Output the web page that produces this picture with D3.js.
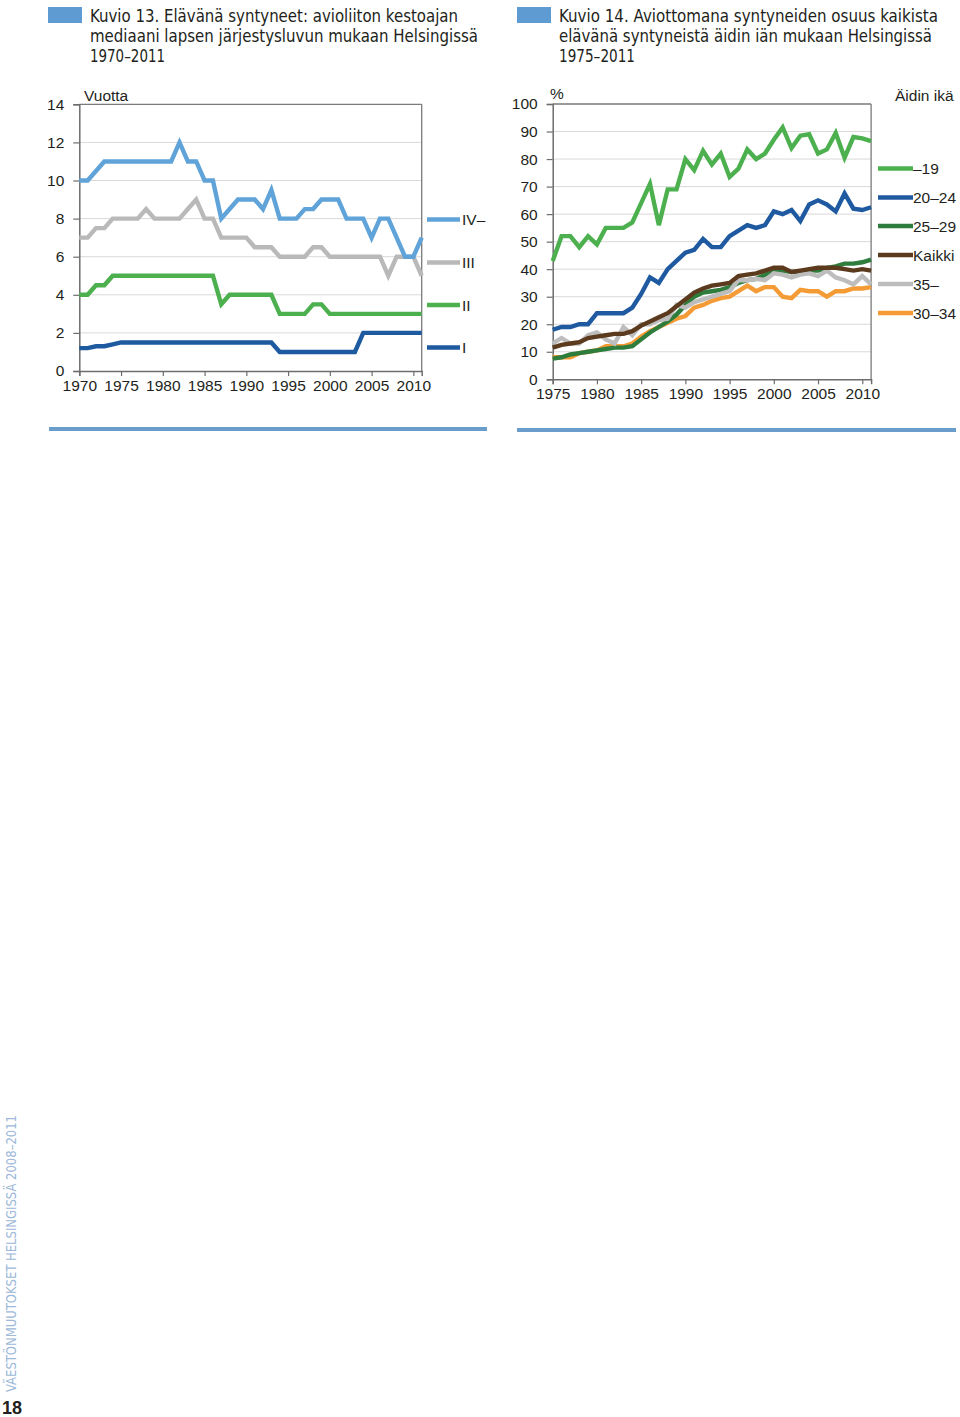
<!DOCTYPE html>
<html><head><meta charset="utf-8">
<script src="https://cdn.jsdelivr.net/npm/d3@7"></script>
<style>
body{margin:0;background:#fff;}
svg{display:block;}
text{font-family:"Liberation Sans","Helvetica",Arial,sans-serif;fill:#231f20;}
.cond{font-family:"Liberation Sans Narrow","DejaVu Sans Condensed","Roboto Condensed","Liberation Sans",sans-serif;}
</style></head>
<body>
<svg id="c" width="960" height="1417"></svg>
<script>
// ---- Chart 13 data (years 1970–2011) ----
const years13 = d3.range(1970, 2012);
const series13Names = ["IV–", "III", "II", "I"];
const seriesIV = [10,10,10.5,11,11,11,11,11,11,11,11,11,12,11,11,10,10,8,8.5,9,9,9,8.5,9.5,8,8,8,8.5,8.5,9,9,9,8,8,8,7,8,8,7,6,6,7];
const seriesIII = [7,7,7.5,7.5,8,8,8,8,8.5,8,8,8,8,8.5,9,8,8,7,7,7,7,6.5,6.5,6.5,6,6,6,6,6.5,6.5,6,6,6,6,6,6,6,5,6,6,6,5];
const seriesII = [4,4,4.5,4.5,5,5,5,5,5,5,5,5,5,5,5,5,5,3.5,4,4,4,4,4,4,3,3,3,3,3.5,3.5,3,3,3,3,3,3,3,3,3,3,3,3];
const seriesI = [1.2,1.2,1.3,1.3,1.4,1.5,1.5,1.5,1.5,1.5,1.5,1.5,1.5,1.5,1.5,1.5,1.5,1.5,1.5,1.5,1.5,1.5,1.5,1.5,1,1,1,1,1,1,1,1,1,1,2,2,2,2,2,2,2,2];
const yTicks13 = [0,2,4,6,8,10,12,14];
const xTicks13 = [1970,1975,1980,1985,1990,1995,2000,2005,2010];

// ---- Chart 14 data (years 1975–2011) ----
const years14 = d3.range(1975, 2012);
const series14Names = ["–19", "20–24", "25–29", "Kaikki", "35–", "30–34"];
const s19 = [43,52,52,48,52,49,55,55,55,57,64,71,56,69,69,80,76,83,78,82,73.5,76.5,83.5,80,82,87,91.5,84,88.5,89,82,83.5,89.5,80.5,88,87.5,86.5];
const s2024 = [18,19,19,20,20,24,24,24,24,26,31,37,35,40,43,46,47,51,48,48,52,54,56,55,56,61,60,61.5,57.5,63.5,65,63.5,61,67.5,62,61.5,62.5];
const s2529 = [7.5,8,9,9.5,10,10.5,11,11.5,11.5,12,14.5,17,19,21,23.5,27,30,31.5,32,32.5,33.5,35,36,36.5,38,39,39.5,39,39,39.5,39.5,40.5,41,42,42,42.5,43.5];
const sKaikki = [11.5,12.5,13,13.5,15,15.5,16,16.5,16.5,17.5,19.5,21,22.5,24,26.5,29,31.5,33,34,34.5,35,37.5,38,38.5,39.5,40.5,40.5,39,39.5,40,40.5,40.5,40.5,40,39.5,40,39.5];
const s35 = [13,15,13,13,16,17,14.5,13,19,16,20,20,21.5,22,27,26,28,29,30,31,32,36,36,36.5,36,38.5,38,37,38,38.5,37.5,39.5,37,36,34.5,37.5,34.5];
const s3034 = [8,8,8,9.5,10,10.5,12,12,12,13,15.5,17.5,19,20.5,22,23,26,27,28.5,29.5,30,32,34,32,33.5,33.5,30,29.5,32.5,32,32,30,32,32,33,33,33.5];
const yTicks14 = [0,10,20,30,40,50,60,70,80,90,100];
const xTicks14 = [1975,1980,1985,1990,1995,2000,2005,2010];

const svg = d3.select("#c");
const titleBlue = "#5f9bd3";

function chart(opt){
  const g = svg.append("g");
  const x = d3.scaleLinear().domain(opt.xDomain).range(opt.xRange);
  const y = d3.scaleLinear().domain(opt.yDomain).range(opt.yRange);
  g.selectAll("line.grid").data(opt.yTicks.filter(v=>v!==opt.yDomain[0] && v!==opt.yDomain[1]))
    .enter().append("line")
    .attr("x1", opt.xRange[0]).attr("x2", opt.xRange[1])
    .attr("y1", d=>y(d)).attr("y2", d=>y(d))
    .attr("stroke", "#d9d9d9").attr("stroke-width", 1);
  g.append("line").attr("x1",opt.xRange[0]).attr("x2",opt.xRange[1])
    .attr("y1",y(opt.yDomain[1])).attr("y2",y(opt.yDomain[1])).attr("stroke","#7a7a7a").attr("stroke-width",1.3);
  g.append("line").attr("x1",opt.xRange[1]).attr("x2",opt.xRange[1])
    .attr("y1",y(opt.yDomain[1])).attr("y2",y(opt.yDomain[0])).attr("stroke","#7a7a7a").attr("stroke-width",1.3);
  const ya = g.append("g").attr("transform",`translate(${opt.xRange[0]},0)`)
    .call(d3.axisLeft(y).tickValues(opt.yTicks).tickSize(6).tickPadding(9));
  const xa = g.append("g").attr("transform",`translate(0,${opt.yRange[0]})`)
    .call(d3.axisBottom(x).tickValues(opt.xTicks).tickFormat(d3.format("d")).tickSize(5).tickPadding(4));
  [ya,xa].forEach(a=>{
    a.select(".domain").attr("stroke","#6d6d6d").attr("stroke-width",1.5);
    a.selectAll(".tick line").attr("stroke","#6d6d6d").attr("stroke-width",1.2);
    a.selectAll(".tick text").attr("font-size",15.5).attr("fill","#231f20")
      .attr("font-family","'Liberation Sans',Arial,sans-serif");
  });
  const line = d3.line().x((d,i)=>x(opt.years[i])).y(d=>y(d));
  opt.series.forEach(s=>{
    g.append("path").datum(s.values).attr("d",line)
      .attr("fill","none").attr("stroke",s.color).attr("stroke-width",4.4)
      .attr("stroke-linejoin","miter").attr("stroke-linecap","butt");
  });
  return {x,y,g};
}

// ---- Titles ----
function title(xr, xt, lines, widths){
  svg.append("rect").attr("x",xr).attr("y",7).attr("width",34).attr("height",16).attr("fill",titleBlue);
  lines.forEach((t,i)=>{
    svg.append("text").attr("class","cond").attr("x",xt).attr("y",22+i*20)
      .attr("font-size",17).attr("textLength",widths[i]).attr("lengthAdjust","spacingAndGlyphs").text(t);
  });
}
title(48, 90, ["Kuvio 13.  Elävänä syntyneet: avioliiton kestoajan","mediaani lapsen järjestysluvun mukaan Helsingissä","1970–2011"],[368,388,75]);
title(517, 559, ["Kuvio 14.  Aviottomana syntyneiden osuus kaikista","elävänä syntyneistä äidin iän mukaan Helsingissä","1975–2011"],[379,373,76]);

// ---- Chart 13 ----
const colors13 = ["#5fa3d8","#b9b9b9","#4cb04f","#1d5aa0"];
const vals13 = [seriesIV, seriesIII, seriesII, seriesI];
chart({
  xDomain:[1970,2011], xRange:[79.3,421.7], yDomain:[0,14], yRange:[371,104.3],
  yTicks:yTicks13, xTicks:xTicks13, years:years13,
  series: [3,2,1,0].map(k=>({values:vals13[k], color:colors13[k]}))
});
svg.append("text").attr("x",84).attr("y",101).attr("font-size",15.5).text("Vuotta");
const leg13Y = [219.5, 262.5, 305, 347.5];
series13Names.forEach((n,i)=>{
  svg.append("line").attr("x1",427).attr("x2",460).attr("y1",leg13Y[i]).attr("y2",leg13Y[i])
    .attr("stroke",colors13[i]).attr("stroke-width",4.4);
  svg.append("text").attr("x",462).attr("y",leg13Y[i]+5.5).attr("font-size",15.5).text(n);
});

// ---- Chart 14 ----
const colors14 = ["#4cb04f","#1f5aa0","#2f7d3c","#5b3a1e","#bdbdbd","#f59b35"];
const vals14 = [s19, s2024, s2529, sKaikki, s35, s3034];
chart({
  xDomain:[1975,2011], xRange:[552.7,871.1], yDomain:[0,100], yRange:[379.3,104],
  yTicks:yTicks14, xTicks:xTicks14, years:years14,
  series: [5,2,4,3,1,0].map(k=>({values:vals14[k], color:colors14[k]}))
});
svg.append("text").attr("x",550).attr("y",99).attr("font-size",15.5).text("%");
svg.append("text").attr("x",895).attr("y",101).attr("font-size",15.5).text("Äidin ikä");
const leg14Y = [168.5, 197.5, 226, 255, 284, 313];
series14Names.forEach((n,i)=>{
  svg.append("line").attr("x1",878).attr("x2",913).attr("y1",leg14Y[i]).attr("y2",leg14Y[i])
    .attr("stroke",colors14[i]).attr("stroke-width",4.4);
  svg.append("text").attr("x",913).attr("y",leg14Y[i]+5.5).attr("font-size",15.5).text(n);
});

// ---- separators ----
svg.append("rect").attr("x",49).attr("y",427).attr("width",438).attr("height",4).attr("fill","#6b9dcc");
svg.append("rect").attr("x",517).attr("y",428).attr("width",439).attr("height",4).attr("fill","#6b9dcc");

// ---- page footer ----
svg.append("text").attr("class","cond")
  .attr("transform","translate(16,1392) rotate(-90)")
  .attr("font-size",14).style("fill","#9db8d8")
  .attr("textLength",277).attr("lengthAdjust","spacingAndGlyphs")
  .text("VÄESTÖNMUUTOKSET HELSINGISSÄ 2008–2011");
svg.append("text").attr("x",2).attr("y",1414).attr("font-size",18).attr("font-weight","bold")
  .attr("font-family","'Liberation Sans',Arial,sans-serif").text("18");
</script>
</body></html>
